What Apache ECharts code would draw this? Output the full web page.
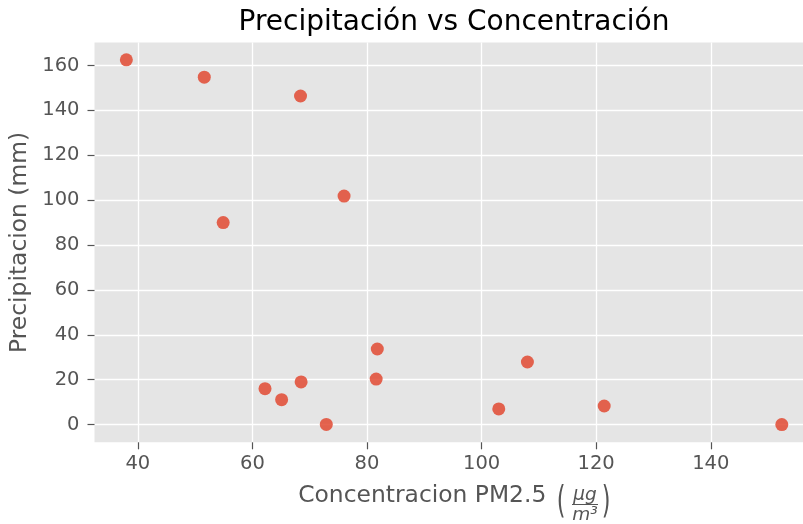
<!DOCTYPE html>
<html>
<head>
<meta charset="utf-8">
<script src="https://cdn.jsdelivr.net/npm/echarts@6/dist/echarts.min.js"></script>
<style>html,body{margin:0;padding:0;background:#fff}#c{width:803px;height:524px}</style>
</head>
<body>
<div id="c"></div>
<script>
const concentracion = [38.0, 51.6, 68.4, 54.9, 76.0, 62.2, 65.1, 68.5, 72.9, 81.8, 81.6, 108.0, 103.0, 121.4, 152.4];
const precipitacion = [162.5, 154.8, 146.4, 90.0, 101.8, 16.0, 11.1, 19.0, 0.1, 33.7, 20.3, 27.9, 7.0, 8.3, 0.0];
const xTicks = [40, 60, 80, 100, 120, 140];
const yTicks = [0, 20, 40, 60, 80, 100, 120, 140, 160];
const titleText = 'Precipitación vs Concentración';
const xName = 'Concentracion PM2.5';
const yName = 'Precipitacion (mm)';

const points = concentracion.map((x, i) => [x, precipitacion[i]]);
const FONT = 'DejaVu Sans';
const chart = echarts.init(document.getElementById('c'), null, {renderer: 'canvas'});
chart.setOption({
  animation: false,
  backgroundColor: '#ffffff',
  title: {
    text: titleText, left: 449, top: 4, textAlign: 'center',
    textStyle: {fontFamily: FONT, fontSize: 28, fontWeight: 'normal', color: '#000'}
  },
  grid: {left: 94.5, top: 42.5, right: 0, bottom: 81.7, show: true, backgroundColor: '#E5E5E5', borderWidth: 0},
  xAxis: {
    type: 'value', min: 32.44, max: 156.1,
    name: xName, nameLocation: 'middle', nameGap: 42,
    nameTextStyle: {fontFamily: FONT, fontSize: 23.4, color: '#555', padding: [0, 53, 0, 0]},
    axisLine: {show: true, onZero: false, lineStyle: {color: 'rgba(0,0,0,0)'}},
    axisTick: {show: true, length: 7, customValues: xTicks, lineStyle: {color: '#555', width: 1.2}},
    axisLabel: {customValues: xTicks, margin: 12, fontFamily: FONT, fontSize: 19.5, color: '#555'},
    splitLine: {show: true, lineStyle: {color: '#ffffff', width: 1.3}}
  },
  yAxis: {
    type: 'value', min: -7.88, max: 170.24,
    name: yName, nameLocation: 'middle', nameGap: 58,
    nameTextStyle: {fontFamily: FONT, fontSize: 23.4, color: '#555'},
    axisLine: {show: true, onZero: false, lineStyle: {color: 'rgba(0,0,0,0)'}},
    axisTick: {show: true, length: 7, customValues: yTicks, lineStyle: {color: '#555', width: 1.2}},
    axisLabel: {customValues: yTicks, margin: 15, fontFamily: FONT, fontSize: 19.5, color: '#555'},
    splitLine: {show: true, lineStyle: {color: '#ffffff', width: 1.3}}
  },
  graphic: [
    {type: 'text', x: 561, y: 504, scaleY: 1.3, scaleX: 0.8, style: {text: '(', font: '28px "DejaVu Sans"', fill: '#555', align: 'center', verticalAlign: 'middle'}},
    {type: 'text', x: 585, y: 495, style: {text: 'μg', font: 'italic 18.5px "DejaVu Sans"', fill: '#555', align: 'center', verticalAlign: 'middle'}},
    {type: 'line', shape: {x1: 572, y1: 504.5, x2: 598, y2: 504.5}, style: {stroke: '#555', lineWidth: 1}},
    {type: 'text', x: 585, y: 515, style: {text: 'm³', font: 'italic 18.5px "DejaVu Sans"', fill: '#555', align: 'center', verticalAlign: 'middle'}},
    {type: 'text', x: 606, y: 504, scaleY: 1.3, scaleX: 0.8, style: {text: ')', font: '28px "DejaVu Sans"', fill: '#555', align: 'center', verticalAlign: 'middle'}}
  ],
  series: [{
    type: 'scatter', data: points, symbolSize: 13,
    itemStyle: {color: '#E24A33', opacity: 0.85}
  }]
});
</script>
</body>
</html>
